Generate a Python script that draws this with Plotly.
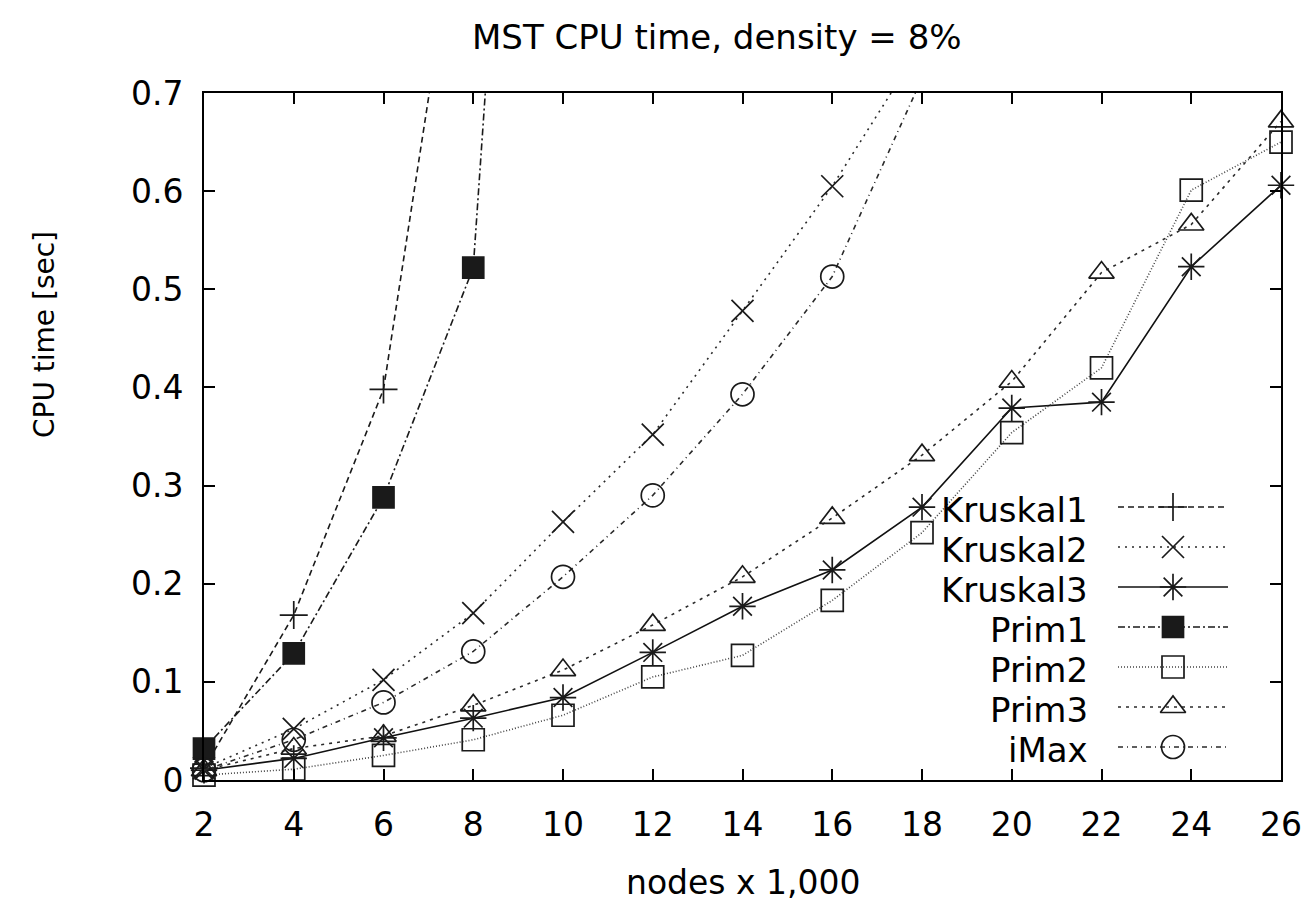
import plotly.graph_objects as go

# ---------------- data ----------------
x_nodes = [2, 4, 6, 8, 10, 12, 14, 16, 18, 20, 22, 24, 26]

kruskal1 = [0.012, 0.168, 0.398, 0.99]
kruskal2 = [0.012, 0.052, 0.102, 0.170, 0.263, 0.352, 0.478, 0.605, 0.75]
kruskal3 = [0.010, 0.022, 0.043, 0.063, 0.084, 0.130, 0.177, 0.214, 0.278, 0.379, 0.385, 0.523, 0.606]
prim1 = [0.032, 0.129, 0.288, 0.522, 1.85]
prim2 = [0.005, 0.011, 0.025, 0.041, 0.066, 0.105, 0.127, 0.183, 0.252, 0.354, 0.420, 0.601, 0.650]
prim3 = [0.010, 0.032, 0.045, 0.076, 0.112, 0.158, 0.207, 0.267, 0.331, 0.406, 0.517, 0.566, 0.671]
imax = [0.010, 0.041, 0.079, 0.131, 0.207, 0.290, 0.393, 0.513, 0.715]

series_names = ["Kruskal1", "Kruskal2", "Kruskal3", "Prim1", "Prim2", "Prim3", "iMax"]
series_values = [kruskal1, kruskal2, kruskal3, prim1, prim2, prim3, imax]

x_ticks = [2, 4, 6, 8, 10, 12, 14, 16, 18, 20, 22, 24, 26]
y_ticks = [0, 0.1, 0.2, 0.3, 0.4, 0.5, 0.6, 0.7]
y_tick_labels = ["0", "0.1", "0.2", "0.3", "0.4", "0.5", "0.6", "0.7"]

title_text = "MST CPU time, density = 8%"
x_title = "nodes x 1,000"
y_title = "CPU time [sec]"

# ---------------- styles ----------------
FONT = "DejaVu Sans"
Y_MAX = 0.7

styles = {
    "Kruskal1": dict(symbol="cross-thin", size=20, dash="6px,4px", color="#1a1a1a"),
    "Kruskal2": dict(symbol="x-thin", size=22, dash="2px,5px", color="#2a2a2a"),
    "Kruskal3": dict(symbol="asterisk", size=22, dash="solid", color="#111111"),
    "Prim1": dict(symbol="square", size=21, dash="7px,3px,2px,3px", color="#1a1a1a"),
    "Prim2": dict(symbol="square-open", size=22, dash="1px,2px", color="#444444"),
    "Prim3": dict(symbol="triangle-up-open", size=22, dash="3px,5px", color="#2a2a2a"),
    "iMax": dict(symbol="circle-open", size=23, dash="5px,4px,1px,4px", color="#2a2a2a"),
}
MARK_COLOR = "#1a1a1a"


def marker_dict(st, sizes):
    return dict(symbol=st["symbol"], size=sizes, color=MARK_COLOR, opacity=1,
                line=dict(color=MARK_COLOR, width=1.7))


fig = go.Figure()

for name, vals in zip(series_names, series_values):
    st = styles[name]
    xs = x_nodes[:len(vals)]
    # line part (clipped to plot area)
    fig.add_trace(go.Scatter(
        x=xs, y=vals, mode="lines", name=name, showlegend=False,
        line=dict(color=st["color"], width=1.6, dash=st["dash"]),
        cliponaxis=True, hoverinfo="skip",
    ))
    # marker part (not clipped, hidden when outside the y range)
    sizes = [st["size"] if v <= Y_MAX else 0 for v in vals]
    fig.add_trace(go.Scatter(
        x=xs, y=vals, mode="markers", name=name, showlegend=False,
        marker=marker_dict(st, sizes), cliponaxis=False,
    ))

# ---------------- layout geometry ----------------
W, H = 1313, 907
L, R, T, B = 204, 32, 93, 127
plot_w = W - L - R
plot_h = H - T - B


def px(xp):
    return (xp - L) / plot_w


def py(yp):
    return (H - B - yp) / plot_h


# ---------------- custom gnuplot-like legend ----------------
row_y0, row_step = 507, 40
for i, name in enumerate(series_names):
    st = styles[name]
    fig.add_trace(go.Scatter(
        x=[0, 0.5, 1], y=[i, i, i], mode="lines+markers", showlegend=False,
        xaxis="x2", yaxis="y2",
        line=dict(color=st["color"], width=1.6, dash=st["dash"]),
        marker=marker_dict(st, [0, st["size"], 0]), cliponaxis=False, hoverinfo="skip",
    ))
    fig.add_annotation(
        x=px(1090), y=py(row_y0 + row_step * i + 3), xref="paper", yref="paper",
        text=name, showarrow=False, xanchor="right", yanchor="middle",
        font=dict(family=FONT, size=34, color="#000000"),
    )

fig.update_layout(
    width=W, height=H,
    margin=dict(l=L, r=R, t=T, b=B, pad=0),
    paper_bgcolor="white", plot_bgcolor="white",
    font=dict(family=FONT, size=33, color="#000000"),
    showlegend=False,
    xaxis=dict(
        range=[2, 26], tickmode="array", tickvals=x_ticks,
        ticks="inside", ticklen=11, tickwidth=1.6, tickcolor="#000000",
        showline=True, linecolor="#000000", linewidth=1.8, mirror="ticks",
        showgrid=False, zeroline=False,
        tickfont=dict(family=FONT, size=33, color="#000000"),
        ticklabelstandoff=14,
    ),
    yaxis=dict(
        range=[0, Y_MAX], tickmode="array", tickvals=y_ticks, ticktext=y_tick_labels,
        ticks="inside", ticklen=11, tickwidth=1.6, tickcolor="#000000",
        showline=True, linecolor="#000000", linewidth=1.8, mirror="ticks",
        showgrid=False, zeroline=False,
        tickfont=dict(family=FONT, size=33, color="#000000"),
        ticklabelstandoff=12,
    ),
    xaxis2=dict(
        domain=[px(1118), px(1228)], range=[0, 1], visible=False,
        anchor="y2", fixedrange=True,
    ),
    yaxis2=dict(
        domain=[py(row_y0 + row_step * 6.5), py(row_y0 - row_step * 0.5)],
        range=[6.5, -0.5], visible=False, anchor="x2", fixedrange=True,
    ),
)

fig.add_annotation(
    x=px(717), y=py(37), xref="paper", yref="paper", text=title_text,
    showarrow=False, xanchor="center", yanchor="middle",
    font=dict(family=FONT, size=34, color="#000000"),
)
fig.add_annotation(
    x=px(743), y=py(882), xref="paper", yref="paper", text=x_title,
    showarrow=False, xanchor="center", yanchor="middle",
    font=dict(family=FONT, size=33, color="#000000"),
)
fig.add_annotation(
    x=px(44), y=py(335), xref="paper", yref="paper", text=y_title,
    showarrow=False, xanchor="center", yanchor="middle", textangle=-90,
    font=dict(family=FONT, size=28, color="#000000"),
)

fig.write_html("out.html")
